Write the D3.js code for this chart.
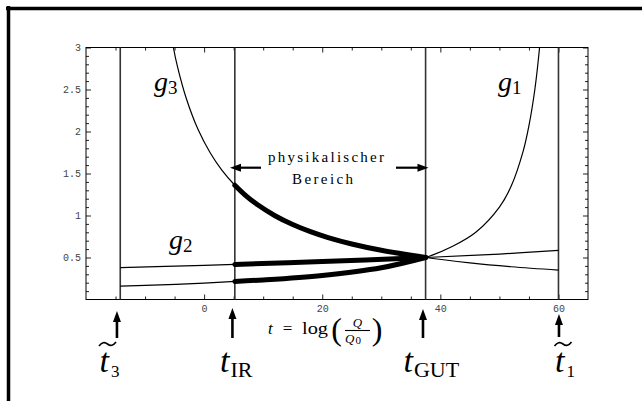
<!DOCTYPE html>
<html><head><meta charset="utf-8">
<script src="https://cdn.jsdelivr.net/npm/d3@7"></script>
<style>
html,body{margin:0;padding:0;background:#fff;}
svg{display:block;}
</style></head>
<body>
<svg id="chart" width="642" height="401"></svg>
<script>
// ---- data ----
const xTickLabels = [0, 20, 40, 60];
const xMinorTicks = [-15, -10, -5, 5, 10, 15, 25, 30, 35, 45, 50, 55];
const yTickLabels = [0.5, 1, 1.5, 2, 2.5, 3];
const yMinorTicks = [0.1,0.2,0.3,0.4,0.6,0.7,0.8,0.9,1.1,1.2,1.3,1.4,1.6,1.7,1.8,1.9,2.1,2.2,2.3,2.4,2.6,2.7,2.8,2.9];

// scale markers (vertical lines)
const markerT = [-14.2, 5.2, 37.5, 60];
const markerNames = ["t3", "tIR", "tGUT", "t1"];
const tIR = 5.2, tGUT = 37.5;

// couplings
const g1T = [-14.2, -10, 0, 5.2, 10, 20, 30, 37.5, 42, 46, 50, 52, 54, 55, 56, 56.8, 57.4];
const g1G = [0.16, 0.168, 0.195, 0.215, 0.233, 0.287, 0.378, 0.5, 0.63, 0.80, 1.10, 1.35, 1.76, 2.07, 2.5, 3.0, 3.5];
const g2T = [-14.2, 0, 5.2, 20, 37.5, 50, 60];
const g2G = [0.38, 0.407, 0.418, 0.452, 0.5, 0.541, 0.585];
const g3T = [-5.7, -5.2, -4.5, -3, -1, 1, 3, 5.2, 7, 9, 12, 15, 18, 21, 25, 30, 37.5, 45, 52, 60];
const g3G = [3.25, 3.0, 2.77, 2.39, 2.02, 1.75, 1.54, 1.36, 1.24, 1.13, 0.997, 0.892, 0.807, 0.737, 0.661, 0.586, 0.5, 0.436, 0.39, 0.35];

// ---- layout ----
const svg = d3.select("#chart");
const L = 86, R = 588, T = 47.5, B = 299.5;
const x = d3.scaleLinear().domain([-20, 65]).range([L, R]);
const y = d3.scaleLinear().domain([0, 3]).range([B, T]);

// outer page frame (top + left thick lines)
svg.append("line").attr("x1", 6).attr("x2", 642).attr("y1", 8.5).attr("y2", 8.5).attr("stroke", "#000").attr("stroke-width", 3.5);
svg.append("line").attr("x1", 8.5).attr("x2", 8.5).attr("y1", 6).attr("y2", 401).attr("stroke", "#000").attr("stroke-width", 3.5);

svg.append("defs").append("clipPath").attr("id", "clip")
  .append("rect").attr("x", L).attr("y", T).attr("width", R - L).attr("height", B - T);

const monoFont = "'Liberation Mono','DejaVu Sans Mono',monospace";
function styleAxis(g) {
  g.select(".domain").remove();
  g.selectAll(".tick line").attr("stroke", "#222").attr("stroke-width", 1);
  g.selectAll(".tick text").attr("font-family", monoFont).attr("font-size", 10).attr("fill", "#444");
}
// bottom
svg.append("g").attr("transform", `translate(0,${B})`)
  .call(d3.axisBottom(x).tickValues(xTickLabels).tickSize(-5).tickPadding(5).tickFormat(d3.format("d"))).call(styleAxis);
svg.append("g").attr("transform", `translate(0,${B})`)
  .call(d3.axisBottom(x).tickValues(xMinorTicks).tickSize(-3).tickFormat("")).call(styleAxis);
// top
svg.append("g").attr("transform", `translate(0,${T})`)
  .call(d3.axisTop(x).tickValues(xTickLabels).tickSize(-5).tickFormat("")).call(styleAxis);
svg.append("g").attr("transform", `translate(0,${T})`)
  .call(d3.axisTop(x).tickValues(xMinorTicks).tickSize(-3).tickFormat("")).call(styleAxis);
// left
svg.append("g").attr("transform", `translate(${L},0)`)
  .call(d3.axisLeft(y).tickValues(yTickLabels).tickSize(-5).tickPadding(5).tickFormat(d3.format("~g"))).call(styleAxis);
svg.append("g").attr("transform", `translate(${L},0)`)
  .call(d3.axisLeft(y).tickValues(yMinorTicks).tickSize(-3).tickFormat("")).call(styleAxis);
// right
svg.append("g").attr("transform", `translate(${R},0)`)
  .call(d3.axisRight(y).tickValues(yTickLabels).tickSize(-5).tickFormat("")).call(styleAxis);
svg.append("g").attr("transform", `translate(${R},0)`)
  .call(d3.axisRight(y).tickValues(yMinorTicks).tickSize(-3).tickFormat("")).call(styleAxis);

// plot frame
svg.append("rect").attr("x", L).attr("y", T).attr("width", R - L).attr("height", B - T)
  .attr("fill", "none").attr("stroke", "#000").attr("stroke-width", 1);

// vertical marker lines
svg.append("g").selectAll("line").data(markerT).join("line")
  .attr("x1", d => x(d)).attr("x2", d => x(d)).attr("y1", y(0)).attr("y2", y(3))
  .attr("stroke", "#333").attr("stroke-width", 1.6);

// curves
const plot = svg.append("g").attr("clip-path", "url(#clip)");
const line = d3.line().x(d => x(d[0])).y(d => y(d[1])).curve(d3.curveCatmullRom.alpha(0.5));
const series = [[g1T, g1G], [g2T, g2G], [g3T, g3G]].map(([ts, gs]) => ts.map((t, i) => [t, gs[i]]));
plot.selectAll("path.thin").data(series).join("path").attr("class", "thin")
  .attr("d", line).attr("fill", "none").attr("stroke", "#000").attr("stroke-width", 1.2);
plot.selectAll("path.thick").data(series.map(s => s.filter(p => p[0] >= tIR && p[0] <= tGUT))).join("path").attr("class", "thick")
  .attr("d", line).attr("fill", "none").attr("stroke", "#000").attr("stroke-width", 5)
  .attr("stroke-linecap", "round");

// curve labels
const serif = "'Liberation Serif','DejaVu Serif',serif";
function gLabel(xp, yp, sub) {
  const t = svg.append("text").attr("x", xp).attr("y", yp).attr("font-family", serif);
  t.append("tspan").attr("font-style", "italic").attr("font-size", 28).text("g");
  t.append("tspan").attr("font-size", 19).attr("dy", 3).text(sub);
}
gLabel(154, 91, "3");
gLabel(498, 91, "1");
gLabel(169, 249, "2");

// physikalischer Bereich
svg.append("text").attr("x", 268).attr("y", 162).attr("font-family", serif).attr("font-size", 15)
  .attr("textLength", 116).attr("lengthAdjust", "spacing").text("physikalischer");
svg.append("text").attr("x", 292).attr("y", 183.5).attr("font-family", serif).attr("font-size", 15)
  .attr("textLength", 61).attr("lengthAdjust", "spacing").text("Bereich");

function hArrow(x0, x1, yy) {
  const dir = Math.sign(x1 - x0);
  svg.append("line").attr("x1", x0).attr("x2", x1 - dir * 8).attr("y1", yy).attr("y2", yy)
    .attr("stroke", "#000").attr("stroke-width", 2.2);
  svg.append("path").attr("d", `M${x1},${yy} L${x1 - dir * 11},${yy - 4} L${x1 - dir * 11},${yy + 4} Z`).attr("fill", "#000");
}
hArrow(261, 230, 167.7);
hArrow(396, 428.5, 167.7);

function vArrow(xx, yTip, yBase) {
  svg.append("line").attr("x1", xx).attr("x2", xx).attr("y1", yBase).attr("y2", yTip + 8)
    .attr("stroke", "#000").attr("stroke-width", 2.6);
  svg.append("path").attr("d", `M${xx},${yTip} L${xx - 4},${yTip + 11} L${xx + 4},${yTip + 11} Z`).attr("fill", "#000");
}
vArrow(x(markerT[0]) - 3.3, 311, 338);
vArrow(x(markerT[1]) - 2.4, 308, 338);
vArrow(x(markerT[2]) - 2.6, 309, 338);
vArrow(x(markerT[3]) + 0.5, 314, 337);

// scale labels under the arrows
function tLabel(xp, sub, subSize, subDx, tilde) {
  const t = svg.append("text").attr("x", xp).attr("y", 371.5).attr("font-family", serif);
  t.append("tspan").attr("font-style", "italic").attr("font-size", 34).text("t");
  t.append("tspan").attr("font-size", subSize).attr("dx", subDx).attr("dy", 5).text(sub);
  if (tilde) {
    const cx = xp + 8, cy = 344;
    svg.append("path")
      .attr("d", `M${cx - 8.5},${cy + 2} Q${cx - 4.5},${cy - 3.5} ${cx},${cy} Q${cx + 4.5},${cy + 3.5} ${cx + 8.5},${cy - 2}`)
      .attr("fill", "none").attr("stroke", "#000").attr("stroke-width", 1.6);
  }
}
tLabel(99.5, "3", 17, 2, true);
tLabel(220, "IR", 22, 1, false);
tLabel(403.5, "GUT", 22, 1, false);
tLabel(555, "1", 17, 2, true);

// x-axis title  t = log(Q/Q0)
svg.append("text").attr("x", 268).attr("y", 334).attr("font-family", serif).attr("font-style", "italic").attr("font-size", 17).text("t");
svg.append("text").attr("x", 287.5).attr("y", 334).attr("text-anchor", "middle").attr("font-family", serif).attr("font-size", 17).text("=");
svg.append("text").attr("x", 302).attr("y", 334).attr("font-family", serif).attr("font-size", 17)
  .attr("textLength", 26).attr("lengthAdjust", "spacingAndGlyphs").text("log");
svg.append("text").attr("x", 336.5).attr("y", 340).attr("text-anchor", "middle").attr("font-family", serif).attr("font-size", 32).text("(");
svg.append("text").attr("x", 377).attr("y", 340).attr("text-anchor", "middle").attr("font-family", serif).attr("font-size", 32).text(")");
svg.append("text").attr("x", 357.5).attr("y", 327).attr("text-anchor", "middle").attr("font-family", serif).attr("font-style", "italic").attr("font-size", 13).text("Q");
svg.append("line").attr("x1", 345).attr("x2", 370).attr("y1", 330.5).attr("y2", 330.5).attr("stroke", "#000").attr("stroke-width", 1.1);
const q0 = svg.append("text").attr("x", 345).attr("y", 343).attr("font-family", serif).attr("font-size", 13);
q0.append("tspan").attr("font-style", "italic").text("Q");
q0.append("tspan").attr("font-size", 11).attr("dx", 1).attr("dy", 1).text("0");
</script>
</body></html>
